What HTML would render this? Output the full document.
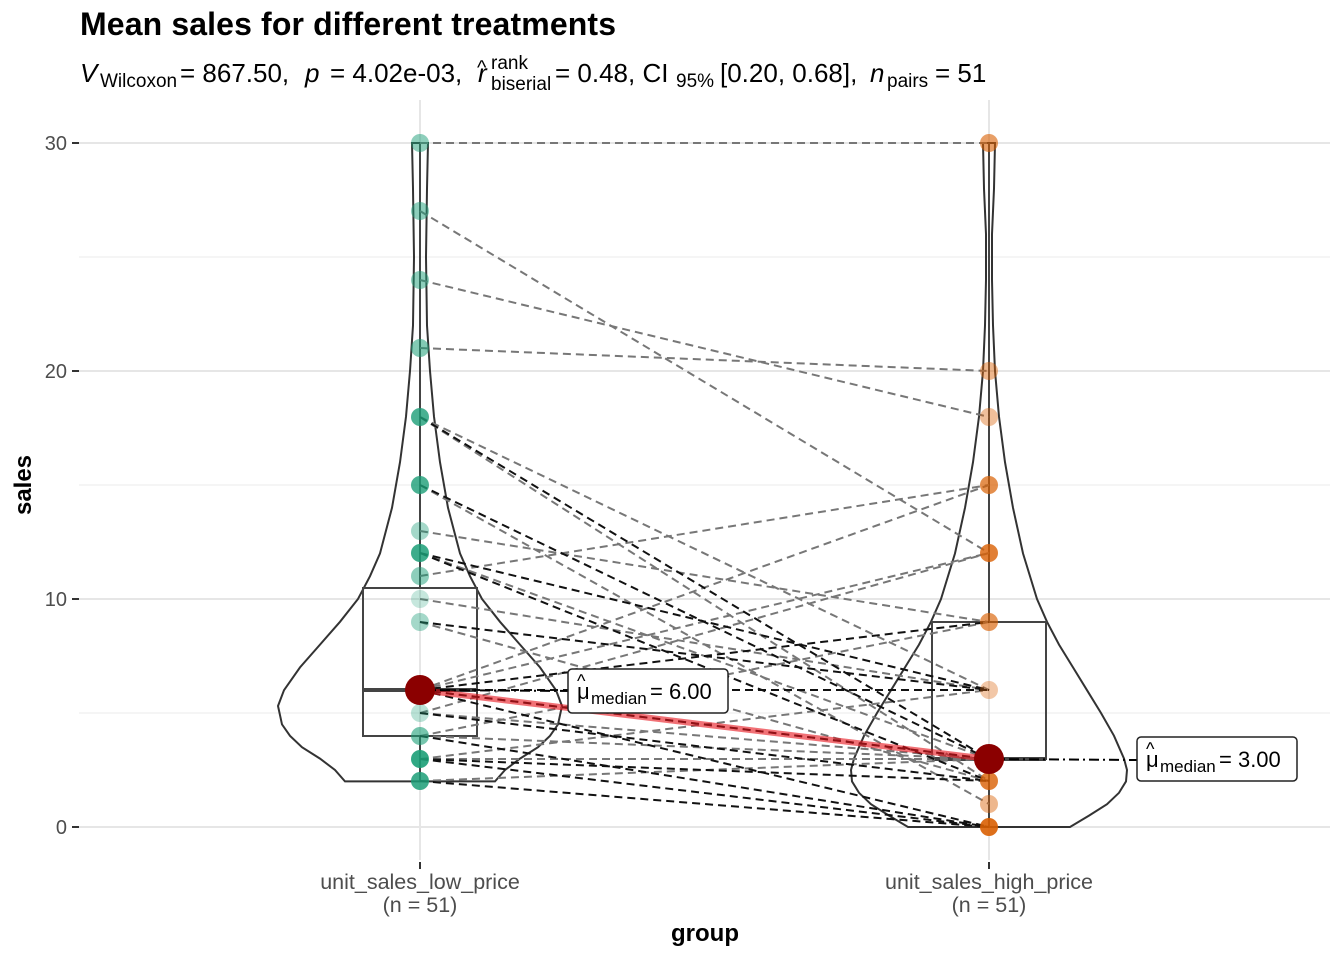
<!DOCTYPE html>
<html><head><meta charset="utf-8"><style>
html,body{margin:0;padding:0;background:#fff;}
svg{display:block;font-family:"Liberation Sans",sans-serif;}
</style></head><body>
<svg width="1344" height="960" viewBox="0 0 1344 960" xmlns="http://www.w3.org/2000/svg">
<rect width="1344" height="960" fill="#fff"/>
<!-- grid -->
<g stroke="#ebebeb" stroke-width="1">
<line x1="79" x2="1330" y1="257" y2="257"/><line x1="79" x2="1330" y1="485" y2="485"/><line x1="79" x2="1330" y1="713" y2="713"/>
</g>
<g stroke="#e6e6e6" stroke-width="2">
<line x1="79" x2="1330" y1="143" y2="143"/><line x1="79" x2="1330" y1="371" y2="371"/><line x1="79" x2="1330" y1="599" y2="599"/><line x1="79" x2="1330" y1="827" y2="827"/>
<line x1="420" x2="420" y1="100" y2="860"/><line x1="989" x2="989" y1="100" y2="860"/>
</g>
<!-- violins -->
<path fill="none" stroke="#333" stroke-width="2" d="M412,143 L428,143 L427,188.6 L426,257 L427,325.4 L430,371 L434,416.6 L440,462.2 L448,507.8 L460,553.4 L470,576.2 L482,599 L500,621.8 L520,644.6 L540,667.4 L556,690.2 L562,706 L558,724.4 L550,735.8 L538,747.2 L520,758.6 L505,770 L495,781.4 L345,781.4 L335,770 L320,758.6 L302,747.2 L290,735.8 L282,724.4 L278,706 L284,690.2 L300,667.4 L320,644.6 L340,621.8 L358,599 L370,576.2 L380,553.4 L392,507.8 L400,462.2 L406,416.6 L410,371 L413,325.4 L414,257 L413,188.6 Z"/>
<path fill="none" stroke="#333" stroke-width="2" d="M983,143 L995,143 L994,188.6 L992,234.2 L992,279.8 L993,325.4 L995,371 L999,416.6 L1005,462.2 L1013,507.8 L1023,553.4 L1037,599 L1047,621.8 L1059,644.6 L1073,667.4 L1087,690.2 L1101,713 L1114,735.8 L1124,758.6 L1127,770 L1126,781.4 L1119,792.8 L1107,804.2 L1089,815.6 L1070,827 L908,827 L889,815.6 L871,804.2 L859,792.8 L852,781.4 L851,770 L854,758.6 L864,735.8 L877,713 L891,690.2 L905,667.4 L919,644.6 L931,621.8 L941,599 L955,553.4 L965,507.8 L973,462.2 L979,416.6 L983,371 L985,325.4 L986,279.8 L986,234.2 L984,188.6 Z"/>
<!-- boxes -->
<g fill="none" stroke="#444" stroke-width="2">
<rect x="363" y="588" width="114" height="148"/>
<line x1="420" x2="420" y1="143" y2="588"/><line x1="420" x2="420" y1="736" y2="781"/>
<rect x="932" y="622" width="114" height="137"/>
<line x1="989" x2="989" y1="143" y2="622"/><line x1="989" x2="989" y1="759" y2="827"/>
</g>
<line x1="363" x2="477" y1="690" y2="690" stroke="#444" stroke-width="4"/>
<line x1="932" x2="1046" y1="759" y2="759" stroke="#444" stroke-width="4"/>
<!-- pair lines gray -->
<g stroke="#777" stroke-width="2" stroke-dasharray="8,5" fill="none">
<line x1="420" y1="143" x2="989" y2="143"/>
<line x1="420" y1="211" x2="989" y2="553"/>
<line x1="420" y1="280" x2="989" y2="417"/>
<line x1="420" y1="348" x2="989" y2="371"/>
<line x1="420" y1="417" x2="989" y2="690"/>
<line x1="420" y1="531" x2="989" y2="622"/>
<line x1="420" y1="576" x2="989" y2="485"/>
<line x1="420" y1="553" x2="989" y2="759"/>
<line x1="420" y1="599" x2="989" y2="690"/>
<line x1="420" y1="690" x2="989" y2="485"/>
<line x1="420" y1="690" x2="989" y2="553"/>
<line x1="420" y1="713" x2="989" y2="553"/>
<line x1="420" y1="736" x2="989" y2="622"/>
<line x1="420" y1="759" x2="989" y2="690"/>
<line x1="420" y1="713" x2="989" y2="759"/>
<line x1="420" y1="736" x2="989" y2="759"/>
<line x1="420" y1="759" x2="989" y2="759"/>
<line x1="420" y1="781" x2="989" y2="759"/>
<line x1="420" y1="690" x2="989" y2="759"/>
<line x1="420" y1="622" x2="989" y2="781"/>
<line x1="420" y1="417" x2="989" y2="781"/>
<line x1="420" y1="485" x2="989" y2="804"/>
</g>
<!-- pair lines black -->
<g stroke="#111" stroke-width="2" stroke-dasharray="8,5" fill="none">
<line x1="420" y1="417" x2="989" y2="759"/>
<line x1="420" y1="485" x2="989" y2="759"/>
<line x1="420" y1="553" x2="989" y2="690"/>
<line x1="420" y1="553" x2="989" y2="781"/>
<line x1="420" y1="622" x2="989" y2="690"/>
<line x1="420" y1="690" x2="989" y2="622"/>
<line x1="420" y1="690" x2="989" y2="759"/>
<line x1="420" y1="690" x2="989" y2="827"/>
<line x1="420" y1="736" x2="989" y2="827"/>
<line x1="420" y1="759" x2="989" y2="827"/>
<line x1="420" y1="781" x2="989" y2="827"/>
<line x1="420" y1="759" x2="989" y2="781"/>
<line x1="420" y1="713" x2="989" y2="781"/>
<line x1="420" y1="690" x2="989" y2="690"/>
</g>
<!-- points -->
<g fill="#1b9e77">
<circle cx="420" cy="143" r="9" opacity="0.5"/><circle cx="420" cy="211" r="9" opacity="0.5"/><circle cx="420" cy="280" r="9" opacity="0.5"/><circle cx="420" cy="348" r="9" opacity="0.55"/><circle cx="420" cy="417" r="9" opacity="0.8"/><circle cx="420" cy="485" r="9" opacity="0.8"/><circle cx="420" cy="531" r="9" opacity="0.4"/><circle cx="420" cy="553" r="9" opacity="0.85"/><circle cx="420" cy="576" r="9" opacity="0.5"/><circle cx="420" cy="599" r="9" opacity="0.25"/><circle cx="420" cy="622" r="9" opacity="0.4"/><circle cx="420" cy="713" r="9" opacity="0.3"/><circle cx="420" cy="736" r="9" opacity="0.6"/><circle cx="420" cy="759" r="9" opacity="0.9"/><circle cx="420" cy="781" r="9" opacity="0.85"/>
</g>
<g fill="#d95f02">
<circle cx="989" cy="143" r="9" opacity="0.6"/><circle cx="989" cy="371" r="9" opacity="0.45"/><circle cx="989" cy="417" r="9" opacity="0.4"/><circle cx="989" cy="485" r="9" opacity="0.7"/><circle cx="989" cy="553" r="9" opacity="0.8"/><circle cx="989" cy="622" r="9" opacity="0.65"/><circle cx="989" cy="690" r="9" opacity="0.35"/><circle cx="989" cy="781" r="9" opacity="0.8"/><circle cx="989" cy="804" r="9" opacity="0.45"/><circle cx="989" cy="827" r="9" opacity="0.9"/>
</g>
<!-- median connection -->
<line x1="420" y1="690" x2="989" y2="759" stroke="#e8131a" stroke-opacity="0.6" stroke-width="6"/>
<line x1="420" y1="690" x2="570" y2="691" stroke="#000" stroke-width="2" stroke-dasharray="10,4,2,4"/>
<line x1="989" y1="759" x2="1138" y2="760" stroke="#000" stroke-width="2" stroke-dasharray="10,4,2,4"/>
<circle cx="420" cy="690" r="15" fill="#8b0000"/>
<circle cx="989" cy="759" r="15" fill="#8b0000"/>
<!-- label boxes -->
<rect x="568" y="669" width="160" height="44" rx="4" fill="#fff" stroke="#222" stroke-width="1.5"/>
<text x="577" y="699" font-size="22" fill="#000">μ</text><text x="577" y="687" font-size="18">^</text>
<text x="591" y="704" font-size="17">median</text><text x="650" y="699" font-size="22">= 6.00</text>
<rect x="1137" y="737" width="160" height="44" rx="4" fill="#fff" stroke="#222" stroke-width="1.5"/>
<text x="1146" y="767" font-size="22" fill="#000">μ</text><text x="1146" y="755" font-size="18">^</text>
<text x="1160" y="772" font-size="17">median</text><text x="1219" y="767" font-size="22">= 3.00</text>
<!-- axes ticks -->
<g stroke="#333" stroke-width="2">
<line x1="72" x2="79" y1="143" y2="143"/><line x1="72" x2="79" y1="371" y2="371"/><line x1="72" x2="79" y1="599" y2="599"/><line x1="72" x2="79" y1="827" y2="827"/>
<line x1="420" x2="420" y1="862" y2="869"/><line x1="989" x2="989" y1="862" y2="869"/>
</g>
<g font-size="20" fill="#4d4d4d" text-anchor="end">
<text x="67" y="150">30</text><text x="67" y="378">20</text><text x="67" y="606">10</text><text x="67" y="834">0</text>
</g>
<g font-size="21.5" fill="#4d4d4d" text-anchor="middle">
<text x="420" y="889">unit_sales_low_price</text><text x="420" y="912">(n = 51)</text>
<text x="989" y="889">unit_sales_high_price</text><text x="989" y="912">(n = 51)</text>
</g>
<text x="705" y="941" font-size="24" font-weight="bold" text-anchor="middle">group</text>
<text transform="translate(31,485) rotate(-90)" font-size="24" font-weight="bold" text-anchor="middle">sales</text>
<!-- titles -->
<text x="80" y="35" font-size="32" font-weight="bold" textLength="536">Mean sales for different treatments</text>
<g font-size="26">
<text x="80" y="82" font-style="italic">V</text>
<text x="100" y="87" font-size="19">Wilcoxon</text>
<text x="180" y="82">= 867.50,</text>
<text x="305" y="82" font-style="italic">p</text>
<text x="330" y="82">= 4.02e-03,</text>
<text x="478" y="82" font-style="italic">r</text>
<text x="477" y="74" font-size="20">^</text>
<text x="491" y="69" font-size="19">rank</text>
<text x="491" y="90" font-size="19">biserial</text>
<text x="555" y="82">= 0.48, CI</text>
<text x="676" y="87" font-size="19">95%</text>
<text x="720" y="82">[0.20, 0.68],</text>
<text x="870" y="82" font-style="italic">n</text>
<text x="887" y="87" font-size="19">pairs</text>
<text x="935" y="82">= 51</text>
</g>
</svg>
</body></html>
